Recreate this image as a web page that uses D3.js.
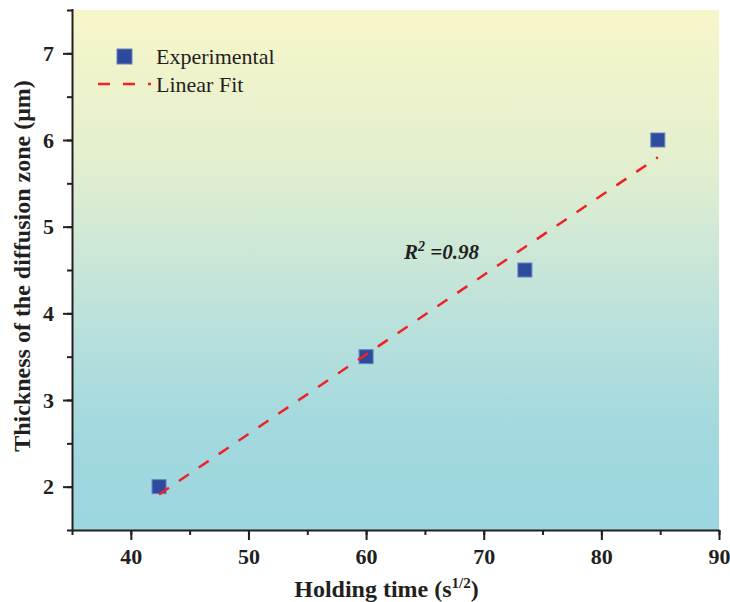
<!DOCTYPE html>
<html>
<head>
<meta charset="utf-8">
<script src="https://cdn.jsdelivr.net/npm/d3@7"></script>
<style>
  body { margin: 0; background: #fff; }
  svg { display: block; }
</style>
</head>
<body>
<svg id="chart"></svg>
<script>
// data
var holdingTime = [42.4, 60, 73.5, 84.8];
var thickness = [2.0, 3.5, 4.5, 6.0];
var fitTime = [42.4, 84.8];
var fitThickness = [1.91, 5.80];
var xTicks = [40, 50, 60, 70, 80, 90];
var yTicks = [2, 3, 4, 5, 6, 7];
var legendLabels = ["Experimental", "Linear Fit"];

var width = 730,
    height = 602,
    margin = { top: 10, right: 11, bottom: 72, left: 72 };

var font = "'Liberation Serif', 'Times New Roman', serif";
var ink = "#231f20";

var svg = d3.select("#chart")
    .attr("width", width)
    .attr("height", height)
    .style("font-family", font);

var x = d3.scaleLinear().domain([35, 90]).range([margin.left, width - margin.right]);
var y = d3.scaleLinear().domain([1.5, 7.5]).range([height - margin.bottom, margin.top]);

// background gradient
var grad = svg.append("defs").append("linearGradient")
    .attr("id", "bg")
    .attr("x1", 0).attr("y1", 0).attr("x2", 0).attr("y2", 1);
grad.selectAll("stop")
    .data([
        { o: 0, c: "#f8f6c9" },
        { o: 0.3, c: "#e2efcf" },
        { o: 0.55, c: "#c0e3da" },
        { o: 0.8, c: "#a3d9df" },
        { o: 1, c: "#9cd6df" }
    ])
    .join("stop")
    .attr("offset", d => d.o)
    .attr("stop-color", d => d.c);

svg.append("rect")
    .attr("x", x(35))
    .attr("y", y(7.5))
    .attr("width", x(90) - x(35))
    .attr("height", y(1.5) - y(7.5))
    .attr("fill", "url(#bg)");

// minor ticks
svg.append("g")
    .attr("transform", `translate(0,${y(1.5)})`)
    .call(d3.axisBottom(x).tickValues(d3.range(35, 91, 5)).tickSize(5).tickFormat(""))
    .call(g => g.select(".domain").remove())
    .call(g => g.selectAll("line").attr("stroke", ink).attr("stroke-width", 2));

svg.append("g")
    .attr("transform", `translate(${x(35)},0)`)
    .call(d3.axisLeft(y).tickValues(d3.range(1.5, 7.51, 0.5)).tickSize(5).tickFormat(""))
    .call(g => g.select(".domain").remove())
    .call(g => g.selectAll("line").attr("stroke", ink).attr("stroke-width", 2));

// major axes
var xAxis = svg.append("g")
    .attr("transform", `translate(0,${y(1.5)})`)
    .call(d3.axisBottom(x).tickValues(xTicks).tickFormat(d3.format("d"))
        .tickSizeInner(10).tickSizeOuter(0).tickPadding(8));

var yAxis = svg.append("g")
    .attr("transform", `translate(${x(35)},0)`)
    .call(d3.axisLeft(y).tickValues(yTicks).tickFormat(d3.format("d"))
        .tickSizeInner(9).tickSizeOuter(0).tickPadding(9));

[xAxis, yAxis].forEach(g => {
    g.select(".domain").attr("stroke", ink).attr("stroke-width", 2);
    g.selectAll(".tick line").attr("stroke", ink).attr("stroke-width", 2);
    g.selectAll(".tick text")
        .attr("fill", ink)
        .style("font-family", font)
        .style("font-size", "22px")
        .style("font-weight", "bold");
});
yAxis.select(".domain").attr("d", `M0.5,${y(7.5) - 1}V${y(1.5) + 1}`);

// axis titles
var xTitle = svg.append("text")
    .attr("x", (x(35) + x(90)) / 2 - 9)
    .attr("y", 597)
    .attr("text-anchor", "middle")
    .attr("fill", ink)
    .style("font-size", "24px")
    .style("font-weight", "bold");
xTitle.append("tspan").text("Holding time (s");
xTitle.append("tspan").attr("dy", -9).style("font-size", "15px").text("1/2");
xTitle.append("tspan").attr("dy", 9).text(")");

svg.append("text")
    .attr("transform", `translate(30,${(y(1.5) + y(7.5)) / 2 - 4}) rotate(-90)`)
    .attr("text-anchor", "middle")
    .attr("fill", ink)
    .style("font-size", "24px")
    .style("font-weight", "bold")
    .text("Thickness of the diffusion zone (\u03bcm)");

// data points
var sq = 14;
svg.append("g")
    .selectAll("rect")
    .data(holdingTime.map((t, i) => [t, thickness[i]]))
    .join("rect")
    .attr("x", d => x(d[0]) - sq / 2)
    .attr("y", d => y(d[1]) - sq / 2)
    .attr("width", sq)
    .attr("height", sq)
    .attr("fill", "#2d4a9c")
    .attr("stroke", "#6a82c0")
    .attr("stroke-width", 1);

// linear fit
var line = d3.line().x(d => x(d[0])).y(d => y(d[1]));
svg.append("path")
    .datum(fitTime.map((t, i) => [t, fitThickness[i]]))
    .attr("d", line)
    .attr("fill", "none")
    .attr("stroke", "#ee2224")
    .attr("stroke-width", 2.5)
    .attr("stroke-dasharray", "12,12");

// R^2 label
var r2 = svg.append("text")
    .attr("x", 404)
    .attr("y", 259)
    .attr("fill", ink)
    .style("font-size", "21px")
    .style("font-weight", "bold")
    .style("font-style", "italic");
r2.append("tspan").text("R");
r2.append("tspan").attr("dy", -8).style("font-size", "14px").text("2");
r2.append("tspan").attr("dy", 8).text(" =0.98");

// legend
var legend = svg.append("g");
legend.append("rect")
    .attr("x", 117)
    .attr("y", 49)
    .attr("width", 15)
    .attr("height", 15)
    .attr("fill", "#2d4a9c")
    .attr("stroke", "#6a82c0")
    .attr("stroke-width", 1);
legend.append("line")
    .attr("x1", 98).attr("x2", 151)
    .attr("y1", 84).attr("y2", 84)
    .attr("stroke", "#ee2224")
    .attr("stroke-width", 2.5)
    .attr("stroke-dasharray", "12,13");
legend.selectAll("text.lab")
    .data(legendLabels)
    .join("text")
    .attr("class", "lab")
    .attr("x", 156)
    .attr("y", (d, i) => 64 + i * 28)
    .attr("fill", ink)
    .style("font-size", "22px")
    .text(d => d);
</script>
</body>
</html>
